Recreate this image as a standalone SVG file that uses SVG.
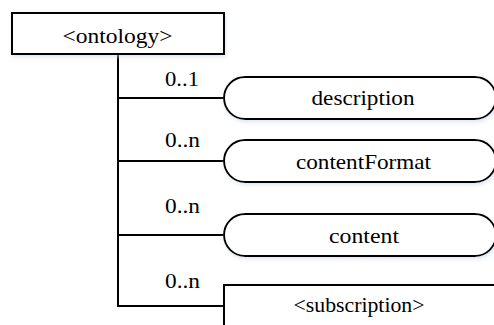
<svg xmlns="http://www.w3.org/2000/svg" width="494" height="325" viewBox="0 0 494 325">
  <defs>
    <filter id="sh" x="-10%" y="-20%" width="120%" height="150%">
      <feGaussianBlur in="SourceAlpha" stdDeviation="2" result="b"/>
      <feOffset dx="1" dy="2" result="o"/>
      <feFlood flood-color="#c9d6e6" flood-opacity="0.6"/>
      <feComposite in2="o" operator="in" result="s"/>
      <feMerge><feMergeNode in="s"/><feMergeNode in="SourceGraphic"/></feMerge>
    </filter>
  </defs>
  <style>
    .box { fill: #ffffff; stroke: #000000; stroke-width: 2; }
    .line { fill: none; stroke: #000000; stroke-width: 2; }
    .t { font-family: "Liberation Serif", "Times New Roman", serif; font-size: 21px; fill: #000000; text-anchor: middle; }
  </style>
  <rect width="494" height="325" fill="#ffffff"/>
  <g id="connectors">
    <path class="line" d="M118,54 V306 H224"/>
    <path class="line" d="M118,98 H224"/>
    <path class="line" d="M118,161 H224"/>
    <path class="line" d="M118,235 H224"/>
    <text class="t" x="182" y="86" textLength="34" lengthAdjust="spacingAndGlyphs">0..1</text>
    <text class="t" x="182.5" y="147" textLength="35" lengthAdjust="spacingAndGlyphs">0..n</text>
    <text class="t" x="182.5" y="213" textLength="35" lengthAdjust="spacingAndGlyphs">0..n</text>
    <text class="t" x="182.5" y="288" textLength="35" lengthAdjust="spacingAndGlyphs">0..n</text>
  </g>
  <g id="ontology">
    <rect class="box" x="12" y="13" width="212" height="41" filter="url(#sh)"/>
    <text class="t" x="117.5" y="43" textLength="110" lengthAdjust="spacingAndGlyphs">&lt;ontology&gt;</text>
  </g>
  <g id="description">
    <rect class="box" x="224" y="77" width="272" height="42" rx="21" ry="21" filter="url(#sh)"/>
    <text class="t" x="363" y="105" textLength="103" lengthAdjust="spacingAndGlyphs">description</text>
  </g>
  <g id="contentFormat">
    <rect class="box" x="224" y="140" width="272" height="42" rx="21" ry="21" filter="url(#sh)"/>
    <text class="t" x="363.5" y="169" textLength="135" lengthAdjust="spacingAndGlyphs">contentFormat</text>
  </g>
  <g id="content">
    <rect class="box" x="224" y="214" width="272" height="42" rx="21" ry="21" filter="url(#sh)"/>
    <text class="t" x="364" y="243" textLength="70" lengthAdjust="spacingAndGlyphs">content</text>
  </g>
  <g id="subscription">
    <rect class="box" x="224" y="285" width="280" height="60" filter="url(#sh)"/>
    <text class="t" x="359" y="312" textLength="131" lengthAdjust="spacingAndGlyphs">&lt;subscription&gt;</text>
  </g>
</svg>
